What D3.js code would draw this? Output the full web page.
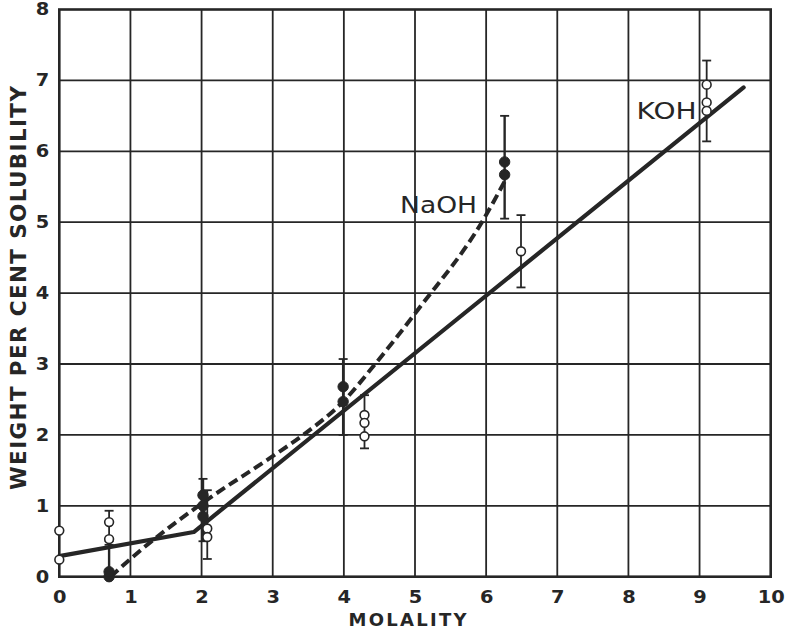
<!DOCTYPE html>
<html>
<head>
<meta charset="utf-8">
<script src="https://cdn.jsdelivr.net/npm/d3@7"></script>
<style>
  html, body { margin: 0; padding: 0; background: #fff; }
  svg { display: block; }
</style>
</head>
<body>
<div id="chart"></div>
<script>
// ---- data ----
const xTicks = [0, 1, 2, 3, 4, 5, 6, 7, 8, 9, 10];
const yTicks = [0, 1, 2, 3, 4, 5, 6, 7, 8];

// KOH: open circles
const kohX      = [0, 0.70, 2.08, 4.29, 6.49, 9.10];
const kohValues = [[0.65, 0.24], [0.77, 0.53], [0.68, 0.56], [2.28, 2.17, 1.98], [4.59], [6.94, 6.69, 6.57]];
const kohErrors = [null, [0.93, 0.50], [1.22, 0.25], [2.56, 1.81], [5.10, 4.08], [7.28, 6.14]];

// NaOH: filled circles
const naohX      = [0.70, 2.02, 3.99, 6.26];
const naohValues = [[0.0, 0.07], [0.85, 1.0, 1.15], [2.68, 2.47], [5.85, 5.67]];
const naohErrors = [[0.45, 0.0], [1.38, 0.50], [3.07, 2.00], [6.50, 5.05]];

// fitted curves
const kohFitX  = [0, 1.89, 9.62];
const kohFitY  = [0.29, 0.63, 6.90];
const naohFitX = [0.72, 1.14, 2.0, 3.0, 3.43, 4.0, 4.44, 5.06, 5.94, 6.30];
const naohFitY = [0.0, 0.37, 1.03, 1.70, 2.0, 2.48, 3.0, 3.79, 5.0, 5.65];

// curve labels
const curveLabels = ["NaOH", "KOH"];
const curveLabelX = [4.79, 8.115];
const curveLabelY = [5.13, 6.46];

// ---- layout ----
const W = 785, H = 636;
const plotL = 59.3, plotR = 770.7, plotT = 9.5, plotB = 576.7;
const ink = "#262626";

const x = d3.scaleLinear().domain([0, 10]).range([plotL, plotR]);
const y = d3.scaleLinear().domain([0, 8]).range([plotB, plotT]);

const svg = d3.select("#chart").append("svg")
  .attr("width", W).attr("height", H)
  .attr("font-family", "'DejaVu Sans', sans-serif");

svg.append("rect").attr("width", W).attr("height", H).attr("fill", "#fff");

// grid
svg.append("g").selectAll("line").data(xTicks.slice(1, -1)).join("line")
  .attr("x1", d => x(d)).attr("x2", d => x(d))
  .attr("y1", plotT).attr("y2", plotB)
  .attr("stroke", ink).attr("stroke-width", 1.8);
svg.append("g").selectAll("line").data(yTicks.slice(1, -1)).join("line")
  .attr("y1", d => y(d)).attr("y2", d => y(d))
  .attr("x1", plotL).attr("x2", plotR)
  .attr("stroke", ink).attr("stroke-width", 1.8);

// frame
svg.append("rect")
  .attr("x", plotL).attr("y", plotT)
  .attr("width", plotR - plotL).attr("height", plotB - plotT)
  .attr("fill", "none").attr("stroke", ink).attr("stroke-width", 2.6);

// axes (labels only, via d3 axes)
const digitW = 13.5;
const xAxis = svg.append("g").attr("transform", `translate(0,${plotB})`)
  .call(d3.axisBottom(x).tickValues(xTicks).tickSize(0).tickPadding(14).tickFormat(d3.format("d")));
xAxis.select(".domain").remove();
xAxis.attr("font-size", 17).attr("font-family", "'DejaVu Sans', sans-serif");
xAxis.selectAll("text").attr("font-weight", "bold").attr("fill", ink)
  .attr("textLength", d => String(d).length * digitW).attr("lengthAdjust", "spacingAndGlyphs");

const yAxis = svg.append("g").attr("transform", `translate(${plotL},0)`)
  .call(d3.axisLeft(y).tickValues(yTicks).tickSize(0).tickPadding(10).tickFormat(d3.format("d")));
yAxis.select(".domain").remove();
yAxis.attr("font-size", 17).attr("font-family", "'DejaVu Sans', sans-serif");
yAxis.selectAll("text").attr("font-weight", "bold").attr("fill", ink)
  .attr("textLength", d => String(d).length * digitW).attr("lengthAdjust", "spacingAndGlyphs");

// axis titles
svg.append("text")
  .attr("x", 407.5).attr("y", 626)
  .attr("text-anchor", "middle")
  .attr("font-size", 18).attr("font-weight", "bold").attr("fill", ink)
  .attr("textLength", 118).attr("lengthAdjust", "spacing")
  .text("MOLALITY");

svg.append("text")
  .attr("transform", "translate(26,288) rotate(-90)")
  .attr("text-anchor", "middle")
  .attr("font-size", 21.5).attr("font-weight", "bold").attr("fill", ink)
  .attr("textLength", 404).attr("lengthAdjust", "spacing")
  .text("WEIGHT PER CENT SOLUBILITY");

// fitted curves
const kohLine = d3.line().x(d => x(d[0])).y(d => y(d[1])).curve(d3.curveLinear);
const naohLine = d3.line().x(d => x(d[0])).y(d => y(d[1])).curve(d3.curveMonotoneX);

svg.append("path")
  .attr("d", kohLine(kohFitX.map((v, i) => [v, kohFitY[i]])))
  .attr("fill", "none").attr("stroke", ink).attr("stroke-width", 4.2)
  .attr("stroke-linecap", "round").attr("stroke-linejoin", "round");

svg.append("path")
  .attr("d", naohLine(naohFitX.map((v, i) => [v, naohFitY[i]])))
  .attr("fill", "none").attr("stroke", ink).attr("stroke-width", 4)
  .attr("stroke-dasharray", "10,5");

// error bars
function errorBars(xs, errs, width, sw) {
  const g = svg.append("g").attr("stroke", ink).attr("stroke-width", sw);
  xs.forEach((xv, i) => {
    const e = errs[i];
    if (!e) return;
    g.append("line").attr("x1", x(xv)).attr("x2", x(xv)).attr("y1", y(e[0])).attr("y2", y(e[1]));
    [e[0], e[1]].forEach(v => {
      if (v <= 0) return;
      g.append("line").attr("x1", x(xv) - width / 2).attr("x2", x(xv) + width / 2)
        .attr("y1", y(v)).attr("y2", y(v)).attr("stroke-width", 1.8);
    });
  });
}
errorBars(naohX, naohErrors, 9, 2.4);
errorBars(kohX, kohErrors, 9, 1.8);

// NaOH filled points
const naohPts = naohX.flatMap((xv, i) => naohValues[i].map(v => [xv, v]));
svg.append("g").selectAll("circle").data(naohPts).join("circle")
  .attr("cx", d => x(d[0])).attr("cy", d => y(d[1])).attr("r", 5.2)
  .attr("fill", ink).attr("stroke", ink).attr("stroke-width", 1);

// KOH open points
const kohPts = kohX.flatMap((xv, i) => kohValues[i].map(v => [xv, v]));
svg.append("g").selectAll("circle").data(kohPts).join("circle")
  .attr("cx", d => x(d[0])).attr("cy", d => y(d[1])).attr("r", 4.4)
  .attr("fill", "#fff").attr("stroke", ink).attr("stroke-width", 1.6);

// curve labels
svg.append("g").selectAll("text").data(curveLabels).join("text")
  .attr("x", (d, i) => x(curveLabelX[i])).attr("y", (d, i) => y(curveLabelY[i]))
  .attr("font-size", 23).attr("fill", ink)
  .attr("textLength", (d, i) => [77, 60][i]).attr("lengthAdjust", "spacingAndGlyphs")
  .text(d => d);
</script>
</body>
</html>
